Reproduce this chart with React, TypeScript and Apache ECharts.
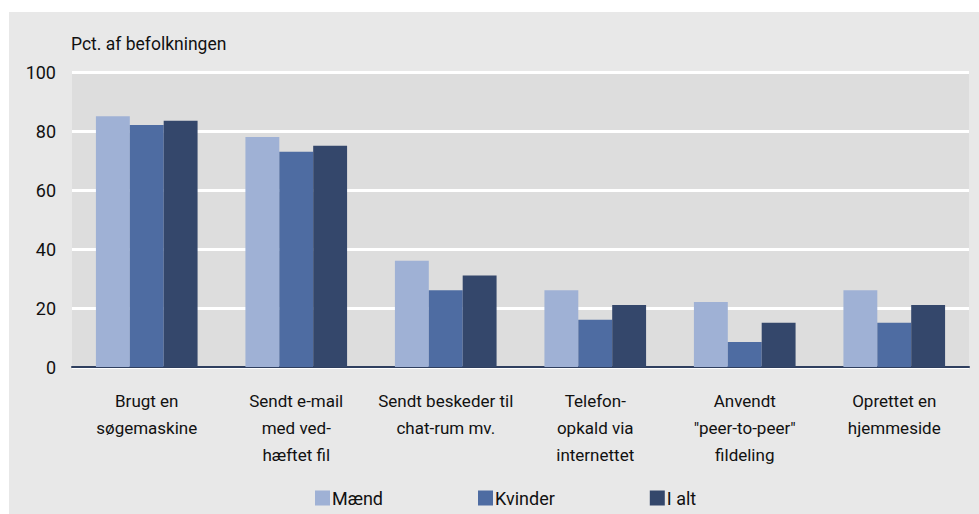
import React, { useEffect, useRef } from "react";
import * as echarts from "echarts";

const categories = [
  "Brugt en\nsøgemaskine",
  "Sendt e-mail\nmed ved-\nhæftet fil",
  "Sendt beskeder til\nchat-rum mv.",
  "Telefon-\nopkald via\ninternettet",
  "Anvendt\n\"peer-to-peer\"\nfildeling",
  "Oprettet en\nhjemmeside",
];
const maend = [85, 78, 36, 26, 22, 26];
const kvinder = [82, 73, 26, 16, 8.5, 15];
const iAlt = [83.5, 75, 31, 21, 15, 21];
const seriesNames = ["Mænd", "Kvinder", "I alt"];
const colors = ["#9fb1d5", "#4e6ca2", "#34476b"];
const yTitle = "Pct. af befolkningen";

const FONT = "Roboto, 'Open Sans', sans-serif";

export default function App() {
  const ref = useRef<HTMLDivElement>(null);
  useEffect(() => {
    if (!ref.current) return;
    const chart = echarts.init(ref.current, undefined, { renderer: "svg" });
    const data = [maend, kvinder, iAlt];
    chart.setOption({
      animation: false,
      backgroundColor: "#ffffff",
      graphic: [
        {
          type: "rect",
          z: -10,
          shape: { x: 9, y: 12, width: 970, height: 502 },
          style: { fill: "#e8e8e8" },
        },
        {
          type: "text",
          left: 71,
          top: 35,
          style: { text: yTitle, font: `17.5px ${FONT}`, fill: "#111" },
        },
      ],
      grid: {
        left: 72,
        right: 10,
        top: 72,
        bottom: 147,
        show: true,
        backgroundColor: "#dddddd",
        borderWidth: 0,
      },
      legend: {
        top: 489,
        left: 315,
        padding: 0,
        itemGap: 95,
        itemWidth: 15,
        itemHeight: 15,
        icon: "rect",
        textStyle: {
          fontFamily: FONT,
          fontSize: 18,
          color: "#111",
          width: 60,
          padding: [0, 0, 0, -3],
        },
        data: seriesNames,
      },
      xAxis: {
        type: "category",
        data: categories,
        axisLine: { lineStyle: { color: "#2f3f5f", width: 2 } },
        axisTick: { show: false },
        axisLabel: {
          interval: 0,
          margin: 20,
          fontFamily: FONT,
          fontSize: 17,
          lineHeight: 27,
          color: "#111",
        },
      },
      yAxis: {
        type: "value",
        min: 0,
        max: 100,
        interval: 20,
        axisLine: { show: false },
        axisTick: { show: false },
        axisLabel: { fontFamily: FONT, fontSize: 18, color: "#111", margin: 16 },
        splitLine: { lineStyle: { color: "#ffffff", width: 3 } },
      },
      series: data.map((d, i) => ({
        name: seriesNames[i],
        type: "bar",
        data: d,
        barGap: "0%",
        barCategoryGap: "32%",
        itemStyle: { color: colors[i] },
      })),
    });
    return () => chart.dispose();
  }, []);
  return (
    <div
      ref={ref}
      style={{ position: "fixed", left: 0, top: 0, width: 979, height: 514 }}
    />
  );
}
